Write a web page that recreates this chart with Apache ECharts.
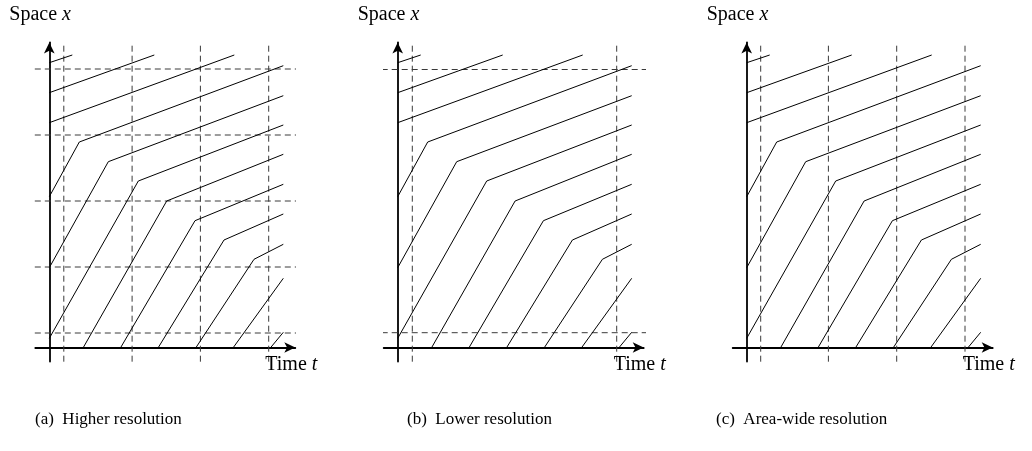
<!DOCTYPE html>
<html><head><meta charset="utf-8">
<script src="https://cdn.jsdelivr.net/npm/echarts@6/dist/echarts.min.js"></script>
<style>html,body{margin:0;padding:0;background:#fff}#c{width:1032px;height:451px}</style>
</head><body><div id="c"></div>
<script>
// Trajectories (shared by all three panels): start point, optional bend, end point
const startT = [0, 0, 0, 0, 0, 0, 3.4, 7.14, 10.9, 14.67, 18.4, 22.14];
const startX = [28.48, 25.48, 22.48, 15.08, 7.98, 0.92, 0, 0, 0, 0, 0, 0];
const bendT  = [null, null, null, 3.0, 5.9, 8.9, 11.74, 14.57, 17.47, 20.47, null, null];
const bendX  = [null, null, null, 20.55, 18.58, 16.65, 14.65, 12.68, 10.75, 8.82, null, null];
const endT   = [2.3, 10.5, 18.5, 23.4, 23.4, 23.4, 23.4, 23.4, 23.4, 23.4, 23.4, 23.4];
const endX   = [29.25, 29.25, 29.25, 28.18, 25.18, 22.25, 19.32, 16.32, 13.35, 10.32, 6.92, 1.52];

// Resolution grid lines per panel
const gridTimesA  = [1.45, 8.28, 15.11, 21.94];
const gridSpacesA = [1.45, 8.05, 14.65, 21.25, 27.85];
const gridTimesB  = [1.46, 21.9];
const gridSpacesB = [1.48, 27.8];
const gridTimesC  = [1.4, 8.17, 15.0, 21.83];
const gridSpacesC = [];

const captions = ['(a)  Higher resolution', '(b)  Lower resolution', '(c)  Area-wide resolution'];
const yLabel = 'Space ';
const yVar = 'x';
const xLabel = 'Time ';
const xVar = 't';

const T_MIN = -1.4, T_MAX = 24.6, X_MIN = -1.4, X_MAX = 30.5, PX = 10, OY = 347.5;
const FONT = 'Liberation Serif';

const panels = [
  {ox: 49.3, times: gridTimesA, spaces: gridSpacesA, hRange: [-1.45, 24.87], capLeft: 35},
  {ox: 397.7, times: gridTimesB, spaces: gridSpacesB, hRange: [-1.6, 24.9], capLeft: 407},
  {ox: 746.7, times: gridTimesC, spaces: gridSpacesC, hRange: [-1.45, 24.87], capLeft: 716}
];

const grid = [], xAxis = [], yAxis = [], series = [], title = [];
const axisLineStyle = {color: '#000', width: 1.8};

panels.forEach((p, i) => {
  grid.push({
    left: p.ox + T_MIN * PX,
    top: OY - X_MAX * PX,
    width: (T_MAX - T_MIN) * PX,
    height: (X_MAX - X_MIN) * PX
  });
  xAxis.push({
    type: 'value', gridIndex: i, min: T_MIN, max: T_MAX,
    axisLine: {show: true, onZero: true, symbol: ['none', 'arrow'], symbolSize: [8, 11], lineStyle: axisLineStyle},
    axisTick: {show: false}, axisLabel: {show: false}, splitLine: {show: false}
  });
  yAxis.push({
    type: 'value', gridIndex: i, min: X_MIN, max: X_MAX,
    axisLine: {show: true, onZero: true, symbol: ['none', 'arrow'], symbolSize: [8, 11], lineStyle: axisLineStyle},
    axisTick: {show: false}, axisLabel: {show: false}, splitLine: {show: false}
  });
  const dashStyle = {color: '#3a3a3a', width: 1, type: [6, 4]};
  p.times.forEach(t => series.push({
    type: 'line', xAxisIndex: i, yAxisIndex: i, data: [[t, -1.42], [t, 30.25]],
    symbol: 'none', silent: true, clip: false, lineStyle: dashStyle, z: 1
  }));
  p.spaces.forEach(s => series.push({
    type: 'line', xAxisIndex: i, yAxisIndex: i, data: [[p.hRange[0], s], [p.hRange[1], s]],
    symbol: 'none', silent: true, clip: false, lineStyle: dashStyle, z: 1
  }));
  startT.forEach((t0, k) => {
    const pts = [[t0, startX[k]]];
    if (bendT[k] !== null) pts.push([bendT[k], bendX[k]]);
    pts.push([endT[k], endX[k]]);
    series.push({
      type: 'line', xAxisIndex: i, yAxisIndex: i, data: pts,
      symbol: 'none', silent: true, clip: false,
      lineStyle: {color: '#000', width: 1}, z: 2
    });
  });
  const rich = {n: {fontFamily: FONT, fontSize: 20, color: '#000'}, i: {fontFamily: FONT, fontSize: 20, fontStyle: 'italic', color: '#000'}};
  title.push({
    text: '{n|' + yLabel + '}{i|' + yVar + '}', left: p.ox - 40, top: 5, padding: 0,
    textStyle: {rich: rich, fontFamily: FONT, fontSize: 20, fontWeight: 'normal'}
  });
  title.push({
    text: '{n|' + xLabel + '}{i|' + xVar + '}', left: p.ox + 216, top: 355, padding: 0,
    textStyle: {rich: rich, fontFamily: FONT, fontSize: 20, fontWeight: 'normal'}
  });
  title.push({
    text: captions[i], left: p.capLeft, top: 411, padding: 0,
    textStyle: {fontFamily: FONT, fontSize: 17, fontWeight: 'normal', color: '#000'}
  });
});

const chart = echarts.init(document.getElementById('c'), null, {renderer: 'canvas'});
chart.setOption({
  backgroundColor: '#fff', animation: false,
  grid, xAxis, yAxis, series, title
});
</script></body></html>
